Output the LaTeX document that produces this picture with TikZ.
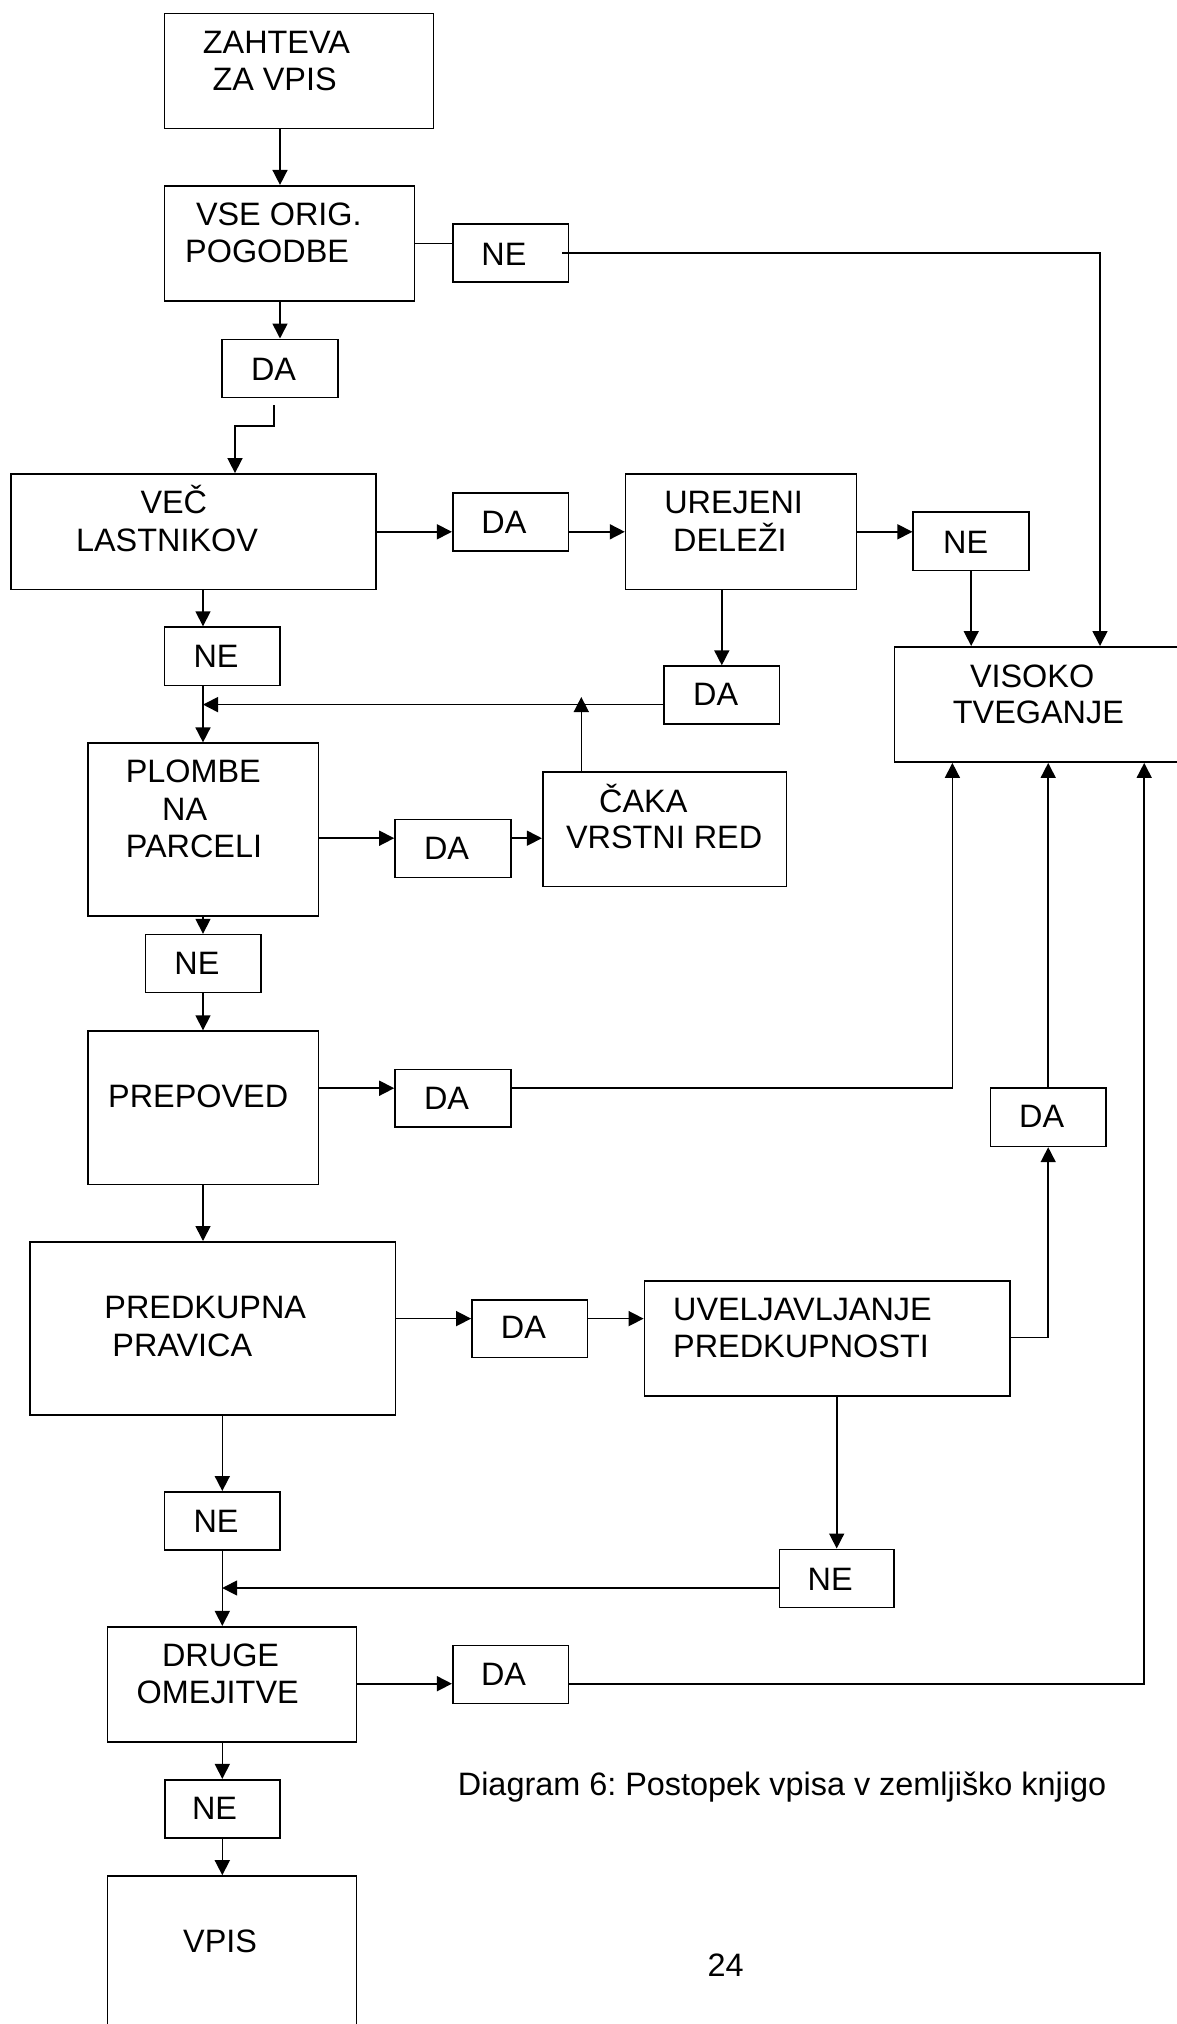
\documentclass[tikz,border=0pt]{standalone}
\usepackage{fontspec}
\setmainfont{Liberation Sans}
\usetikzlibrary{arrows.meta}

% box from its corners: name, x1, y1, x2, y2
\newcommand{\flowbox}[5]{%
  \node[box, minimum width={(#4)-(#2)}, minimum height={(#5)-(#3)}]
    (#1) at ({((#2)+(#4))/2},{((#3)+(#5))/2}) {};}
% one line of text, placed by its left baseline point
\newcommand{\flowtext}[4]{\node[lbl] (#1) at (#2,#3) {#4};}

\tikzset{
  box/.style={draw=black, fill=white, rectangle, inner sep=0pt},
  lbl/.style={anchor=base west, inner sep=0pt, text=black,
              font=\fontsize{32.4}{38}\selectfont\frenchspacing},
  arr/.style={-{Triangle[length=15pt,width=15pt]}},
}

\begin{document}
\begin{tikzpicture}[x=1pt, y=-1pt, line width=1.6pt]
\fill[white] (0,0) rectangle (1177,2024);
\clip (0,0) rectangle (1177,2024);

% ---- boxes ----
\flowbox{zah}{164.6}{13.3}{433.6}{128.3}
\flowbox{vse}{164.6}{185.7}{414.5}{301}
\flowbox{ne1}{452.7}{224}{568.3}{281.7}
\flowbox{da1}{222}{339.3}{338}{397.3}
\flowbox{vec}{10.7}{473.9}{376.2}{589.3}
\flowbox{da2}{452.7}{493.2}{568.3}{551.1}
\flowbox{ure}{625.6}{473.9}{856.4}{589.3}
\flowbox{ne2}{913.2}{512.1}{1029.2}{570.4}
\flowbox{vis}{894.4}{646.8}{1200}{762.1}
\flowbox{ne3}{164.6}{627.1}{279.8}{685.4}
\flowbox{da3}{664}{666.1}{779.6}{723.9}
\flowbox{plo}{88}{743.2}{318.4}{916.1}
\flowbox{da4}{395}{819.6}{510.9}{877.5}
\flowbox{cak}{542.7}{771.8}{786.4}{886.4}
\flowbox{ne4}{145.4}{934.6}{261}{992.5}
\flowbox{pre}{88}{1031.1}{318.4}{1184.6}
\flowbox{da5}{395}{1069.3}{510.9}{1126.8}
\flowbox{da6}{990.4}{1088.2}{1106}{1146.4}
\flowbox{pdk}{29.9}{1241.8}{395.3}{1415}
\flowbox{da7}{471.9}{1300}{587.4}{1357.5}
\flowbox{uve}{644.4}{1280.7}{1010}{1395.7}
\flowbox{ne5}{164.6}{1491.8}{280}{1550}
\flowbox{ne6}{779.3}{1549.3}{894.1}{1607.3}
\flowbox{dru}{107.4}{1626.7}{356.6}{1741.7}
\flowbox{da8}{452.7}{1645.3}{568.3}{1703.3}
\flowbox{ne7}{165}{1779.7}{280}{1837.7}
\flowbox{vpis}{107.4}{1876}{356.6}{2100}

% ---- texts ----
\flowtext{t1}{202.1}{53.3}{ZAHTEVA}
\flowtext{t2}{211.7}{90}{ZA VPIS}
\flowtext{t3}{195.2}{225.7}{VSE ORIG.}
\flowtext{t4}{184.4}{262.7}{POGODBE}
\flowtext{t5}{480.6}{265}{NE}
\flowtext{t6}{250.2}{380}{DA}
\flowtext{t7}{139.7}{513.9}{VEČ}
\flowtext{t8}{75.3}{551.4}{LASTNIKOV}
\flowtext{t9}{480.6}{533.6}{DA}
\flowtext{t10}{663.5}{513.9}{UREJENI}
\flowtext{t11}{672.4}{551.4}{DELEŽI}
\flowtext{t12}{942.4}{553.2}{NE}
\flowtext{t13}{969.2}{687.1}{VISOKO}
\flowtext{t14}{952.1}{723.6}{TVEGANJE}
\flowtext{t15}{692.4}{705.7}{DA}
\flowtext{t16}{192.8}{667.5}{NE}
\flowtext{t17}{125}{782.9}{PLOMBE}
\flowtext{t18}{161.4}{820}{NA}
\flowtext{t19}{125}{857.5}{PARCELI}
\flowtext{t20}{423.2}{859.3}{DA}
\flowtext{t21}{598.4}{812.1}{ČAKA}
\flowtext{t22}{565.2}{848.6}{VRSTNI RED}
\flowtext{t23}{173.6}{974.6}{NE}
\flowtext{t24}{107.4}{1107.5}{PREPOVED}
\flowtext{t25}{423.2}{1109.3}{DA}
\flowtext{t26}{1018.4}{1127.5}{DA}
\flowtext{t27}{103.6}{1318.6}{PREDKUPNA}
\flowtext{t28}{111.6}{1356.1}{PRAVICA}
\flowtext{t29}{500.1}{1338.9}{DA}
\flowtext{t30}{672.3}{1320.4}{UVELJAVLJANJE}
\flowtext{t31}{672.4}{1357.9}{PREDKUPNOSTI}
\flowtext{t32}{192.8}{1532.2}{NE}
\flowtext{t33}{806.9}{1590}{NE}
\flowtext{t34}{161.3}{1666}{DRUGE}
\flowtext{t35}{135.9}{1703.3}{OMEJITVE}
\flowtext{t36}{480.3}{1685}{DA}
\flowtext{t37}{191.3}{1819.3}{NE}
\flowtext{t38}{182.4}{1952.3}{VPIS}
\flowtext{cap}{457.1}{1795}{Diagram 6: Postopek vpisa v zemljiško knjigo}
\flowtext{pg}{706.7}{1976}{24}

% ---- junction points ----
\coordinate (k1) at (274,405.3);
\coordinate (k2) at (235,425.7);
\coordinate (j1) at (203,704.6);
\coordinate (j2) at (581.3,697);
\coordinate (j3) at (222.2,1588);

% ---- connectors ----
\draw[arr] (zah.south -| 280,0) -- (vse.north -| 280,0);
\draw (vse.east |- 0,243.3) -- (ne1.west |- 0,243.3);
\draw[arr] ([xshift=-7pt]ne1.east) -| (vis.north -| 1100,0);
\draw[arr] (vse.south -| 280,0) -- (da1.north -| 280,0);
\draw[arr] (k1) |- (k2) -- (vec.north -| k2);
\draw[arr] (vec.east |- 0,531.8) -- (da2.west |- 0,531.8);
\draw[arr] (da2.east |- 0,531.8) -- (ure.west |- 0,531.8);
\draw[arr] (ure.east |- 0,531.8) -- (ne2.west |- 0,531.8);
\draw[arr] (ne2.south) -- (vis.north -| ne2.south);
\draw[arr] (vec.south -| 203,0) -- (ne3.north -| 203,0);
\draw[arr] (ne3.south -| 203,0) -- (plo.north -| 203,0);
\draw[arr] (ure.south -| da3.north) -- (da3.north);
\draw[arr] (da3.west |- j1) -- (j1);
\draw[arr] (cak.north -| j2) -- (j2);
\draw[arr] (plo.east |- 0,838.2) -- (da4.west |- 0,838.2);
\draw[arr] (da4.east |- 0,838.2) -- (cak.west |- 0,838.2);
\draw[arr] (plo.south -| 203,0) -- (ne4.north -| 203,0);
\draw[arr] (ne4.south -| 203,0) -- (pre.north -| 203,0);
\draw[arr] (pre.east |- 0,1088.2) -- (da5.west |- 0,1088.2);
\draw[arr] (da5.east |- 0,1088.2) -| (vis.south -| 952.4,0);
\draw[arr] (pre.south -| 203,0) -- (pdk.north -| 203,0);
\draw[arr] (pdk.east |- 0,1318.6) -- (da7.west |- 0,1318.6);
\draw[arr] (da7.east |- 0,1318.6) -- (uve.west |- 0,1318.6);
\draw[arr] (uve.east |- 0,1337.5) -| (da6.south);
\draw[arr] (da6.north) -- (vis.south -| da6.north);
\draw[arr] (pdk.south -| 222.3,0) -- (ne5.north -| 222.3,0);
\draw[arr] (ne5.south -| 222.3,0) -- (dru.north -| 222.3,0);
\draw[arr] (uve.south -| ne6.north) -- (ne6.north);
\draw[arr] (ne6.west |- j3) -- (j3);
\draw[arr] (dru.east |- 0,1683.7) -- (da8.west |- 0,1683.7);
\draw[arr] (da8.east |- 0,1683.7) -| (vis.south -| 1144.2,0);
\draw[arr] (dru.south -| 222.3,0) -- (ne7.north -| 222.3,0);
\draw[arr] (ne7.south -| 222.3,0) -- (vpis.north -| 222.3,0);
\end{tikzpicture}
\end{document}
